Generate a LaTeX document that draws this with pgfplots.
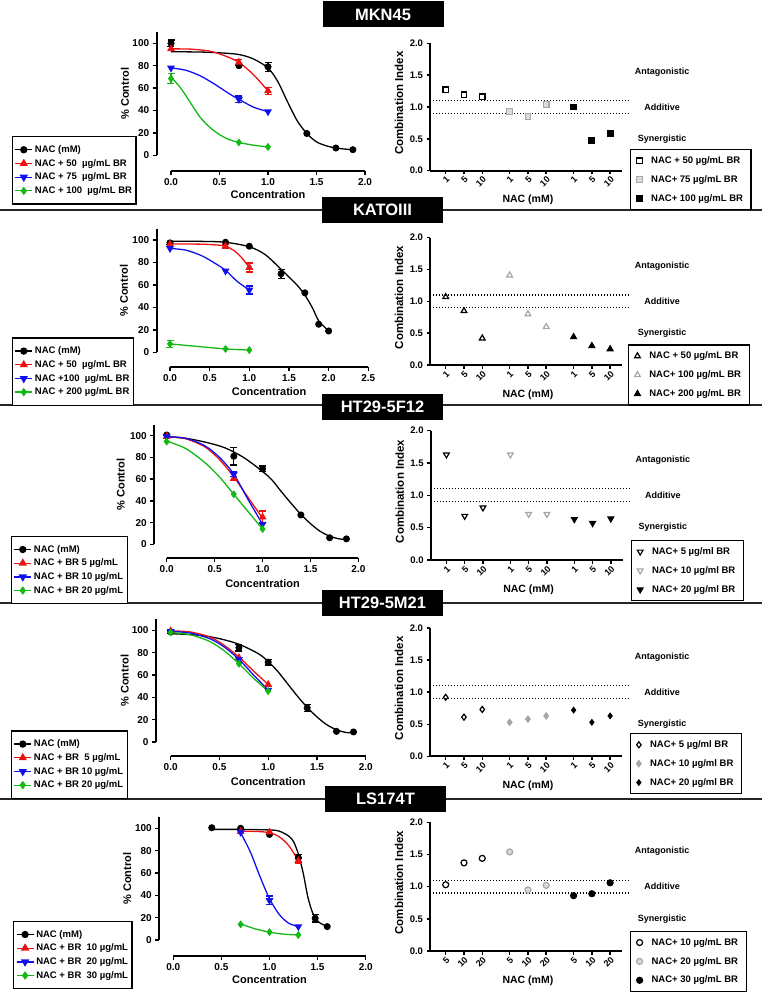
\documentclass[border=0pt]{standalone}
\usepackage{fontspec}
\setmainfont{Liberation Sans}
\usepackage{pgfplots}
\pgfplotsset{compat=1.18}

\definecolor{cred}{HTML}{EE1111}
\definecolor{cblue}{HTML}{1111EE}
\definecolor{cgreen}{HTML}{14B814}
\definecolor{cgrey}{HTML}{A6A6A6}

\newcommand\fs[1]{\fontsize{#1}{#1}\selectfont\bfseries}

\pgfplotsset{
  panel/.style={scale only axis, clip=false, anchor=south west,
    axis x line*=bottom, axis y line*=left, tick pos=left,
    axis line style={line width=1.7pt, -},
    tick align=outside, major tick length=4pt,
    major tick style={line width=1.4pt, black},
    tick label style={font=\fs{10}},
    /pgf/number format/assume math mode=true,
    legend cell align=left,
  },
  dose/.style={panel, xmin=0, ymin=0, ymax=110,
    ytick={0,20,...,100}, xtick distance=0.5,
    xticklabel style={/pgf/number format/.cd, fixed, fixed zerofill, precision=1},
    xlabel={Concentration}, ylabel={\% Control},
    xlabel style={font=\fs{11}, at={([yshift=-39.5pt]axis description cs:0.5,0)}, anchor=center},
    ylabel style={font=\fs{11}, at={([xshift=-46pt]axis description cs:0,0.5)}, anchor=center},
    legend style={draw=black, line width=1.2pt, font=\fs{9.5}, anchor=north west,
      inner xsep=2pt, inner ysep=7pt, row sep=1.3pt},
  },
  ci/.style={panel, width=192pt, xmin=0.14, xmax=10.65, ymin=0, ymax=2,
    ytick={0,0.5,...,2}, major tick length=3.5pt,
    yticklabel style={font=\fs{9.5}, /pgf/number format/.cd, fixed, fixed zerofill, precision=1},
    xtick={1,2,3,4.5,5.5,6.5,8,9,10},
    xticklabel style={rotate=45, anchor=north east, font=\fs{9}, inner sep=1pt},
    xlabel={NAC (mM)}, ylabel={Combination Index},
    xlabel style={font=\fs{10.5}, at={([yshift=-29.5pt]axis description cs:0.51,0)}, anchor=center},
    ylabel style={font=\fs{11.5}, at={([xshift=-31pt]axis description cs:0,0.53)}, anchor=center},
    legend style={draw=black, line width=1.2pt, font=\fs{9.5}, anchor=north west,
      inner xsep=6pt, inner ysep=5pt, row sep=6.5pt,
      /tikz/every odd column/.append style={column sep=7pt}},
  },
  nac/.style={black, mark=*, mark size=3pt},
  rd/.style={cred, mark=triangle*, mark size=3.6pt},
  bl/.style={cblue, mark=triangle*, mark size=3.6pt, mark options={rotate=180}},
  gr/.style={cgreen, mark=diamond*, mark size=3.2pt},
}

% fitted curve, measured points, error bars, legend line
\newcommand\curve[2]{\addplot[#1, mark=none, line width=1.3pt, smooth, forget plot] coordinates {#2};}
\newcommand\pts[2]{\addplot[#1, only marks, line width=1pt, forget plot] coordinates {#2};}
\newcommand\errs[2]{\addplot[#1, only marks, mark=none, forget plot,
  error bars/.cd, y dir=both, y explicit, error bar style={line width=1.3pt},
  error mark options={rotate=90, mark size=3.5pt, line width=1.3pt}] coordinates {#2};}
\newcommand\leg[2]{\addlegendimage{#1, line width=1.3pt}\addlegendentry{#2}}

% combination index points
\newcommand\ci[3]{\addplot[only marks, line width=1.2pt, #1] coordinates {#2}; \addlegendentry{#3}}
\newcommand\zones{%
  \addplot[black, line width=1.2pt, dash pattern=on 1.2pt off 1.8pt, forget plot] coordinates {(0.14,1.1) (11.1,1.1)};
  \addplot[black, line width=1.2pt, dash pattern=on 1.2pt off 1.8pt, forget plot] coordinates {(0.14,0.9) (11.1,0.9)};
  \node[font=\fs{9}] at (axis cs:12.85,1.55) {Antagonistic};
  \node[font=\fs{9}] at (axis cs:12.85,1.0) {Additive};
  \node[font=\fs{9}] at (axis cs:12.85,0.5) {Synergistic};}

\begin{document}
\begin{tikzpicture}
\useasboundingbox (0pt,0pt) rectangle (764pt,-992pt);
\foreach \y in {210,405,603,799} \draw[line width=1.3pt, black!85] (0pt,-\y pt) -- (762pt,-\y pt);
\foreach \y/\t/\x in {14.5/MKN45/383, 210/KATOIII/382.5, 406.5/HT29-5F12/382.5, 603/HT29-5M21/382.5, 799/LS174T/385.5}
  \node[fill=black, text=white, font=\fs{16.5}, minimum width=121pt, minimum height=26pt, inner sep=0pt] at (\x pt,-\y pt) {\t};

% ---------------- MKN45 ----------------
\begin{axis}[dose, at={(171pt,-155.3pt)}, width=194pt, height=123.2pt, xmax=2,
  axis x line shift=15.4pt, axis y line shift=14.3pt,
  legend style={at={([xshift=-159pt,yshift=19.3pt]axis description cs:0,0)}}]
\curve{black}{(0,92.5) (0.3,92.2) (0.5,91.5) (0.7,90) (0.85,86) (1.0,78) (1.1,66) (1.2,48) (1.3,31) (1.4,19.5) (1.5,12) (1.6,8.5) (1.7,6.5) (1.8,5.5) (1.875,5)}
\curve{cred}{(0,95) (0.2,94.8) (0.4,93) (0.55,89) (0.7,83) (0.85,72) (1.0,57.5)}
\curve{cblue}{(0,78) (0.15,76) (0.3,71) (0.45,63.5) (0.6,55) (0.7,50) (0.85,43) (1.0,39)}
\curve{cgreen}{(0,70) (0.1,60) (0.2,47) (0.3,34) (0.4,25) (0.5,18.5) (0.6,14) (0.7,11.5) (0.85,9) (1.0,7.5)}
\errs{black}{(0,100) +- (0,3) (1.0,79) +- (0,4)}
\errs{cred}{(0.7,83) +- (0,2.5) (1.0,57.5) +- (0,3)}
\errs{cblue}{(0.7,50) +- (0,3)}
\errs{cgreen}{(0,68.5) +- (0,4.5)}
\pts{nac}{(0,100) (0.7,80) (1.0,79) (1.4,19.5) (1.7,6.5) (1.875,5)}
\pts{rd}{(0,95) (0.7,83) (1.0,57.5)}
\pts{bl}{(0,78) (0.7,50) (1.0,39)}
\pts{gr}{(0,68.5) (0.7,11.5) (1.0,7.5)}
\leg{nac}{NAC (mM)}
\leg{rd}{NAC + 50\ \ µg/mL BR}
\leg{bl}{NAC + 75\ \ µg/mL BR}
\leg{gr}{NAC + 100\ \ µg/mL BR}
\end{axis}

\begin{axis}[ci, at={(430pt,-170.7pt)}, height=127.4pt, xticklabels={1,5,10,1,5,10,1,5,10},
  legend style={at={([xshift=200pt,yshift=21.7pt]axis description cs:0,0)}}]
\zones
\ci{black, mark=square, mark size=2.8pt}{(1,1.27) (2,1.19) (3,1.16)}{NAC + 50 µg/mL BR}
\ci{cgrey, mark=square*, mark size=2.8pt, mark options={fill=cgrey!40}}{(4.5,0.93) (5.5,0.85) (6.5,1.04)}{NAC+ 75 µg/mL BR}
\ci{black, mark=square*, mark size=2.8pt}{(8,1.00) (9,0.48) (10,0.59)}{NAC+ 100 µg/mL BR}
\end{axis}

% ---------------- KATOIII ----------------
\begin{axis}[dose, at={(170pt,-352.3pt)}, width=198.3pt, height=123.5pt, xmax=2.5,
  axis x line shift=15pt, axis y line shift=13.3pt,
  legend style={at={([xshift=-158pt,yshift=15pt]axis description cs:0,0)}}]
\curve{black}{(0,99) (0.4,98.8) (0.7,98) (1.0,94) (1.2,87) (1.4,74) (1.5,67) (1.6,60) (1.7,51) (1.8,39) (1.875,28) (2.0,19)}
\curve{cred}{(0,96.5) (0.4,96.3) (0.6,95.5) (0.7,94.5) (0.8,91) (0.9,84.5) (1.0,75.5)}
\curve{cblue}{(0,92.5) (0.2,91) (0.4,86) (0.55,80) (0.7,73) (0.85,63) (1.0,55.5)}
\curve{cgreen}{(0,7.5) (0.35,5.2) (0.7,3) (1.0,2)}
\errs{black}{(0,97.5) +- (0,1.5) (1.4,70) +- (0,4)}
\errs{cred}{(0.7,94.5) +- (0,1.5) (1.0,75.5) +- (0,4)}
\errs{cblue}{(1.0,55.5) +- (0,3.5)}
\errs{cgreen}{(0,7.5) +- (0,3)}
\pts{nac}{(0,97.5) (0.7,98) (1.0,94.5) (1.4,70) (1.7,53) (1.875,25) (2.0,19)}
\pts{rd}{(0,96.2) (0.7,94.5) (1.0,75.5)}
\pts{bl}{(0,92.5) (0.7,72.5) (1.0,55.5)}
\pts{gr}{(0,7.5) (0.7,3) (1.0,2)}
\leg{nac}{NAC (mM)}
\leg{rd}{NAC + 50\ \ µg/mL BR}
\leg{bl}{NAC +100\ \ µg/mL BR}
\leg{gr}{NAC + 200 µg/mL BR}
\end{axis}

\begin{axis}[ci, at={(430pt,-365pt)}, height=127.3pt, xticklabels={1,5,10,1,5,10,1,5,10},
  legend style={at={([xshift=198pt,yshift=20.7pt]axis description cs:0,0)}}]
\zones
\ci{black, mark=triangle, mark size=3.3pt}{(1,1.07) (2,0.85) (3,0.42)}{NAC + 50 µg/mL BR}
\ci{cgrey, mark=triangle, mark size=3.3pt}{(4.5,1.41) (5.5,0.80) (6.5,0.60)}{NAC+ 100 µg/mL BR}
\ci{black, mark=triangle*, mark size=3.3pt}{(8,0.44) (9,0.30) (10,0.25)}{NAC+ 200 µg/mL BR}
\end{axis}

% ---------------- HT29-5F12 ----------------
\begin{axis}[dose, at={(166.7pt,-544.3pt)}, width=191.7pt, height=119.6pt, xmax=2,
  axis x line shift=14pt, axis y line shift=12.4pt,
  legend style={at={([xshift=-155.7pt,yshift=8.6pt]axis description cs:0,0)}}]
\curve{black}{(0,99) (0.2,97.5) (0.4,94) (0.6,89) (0.8,80) (1.0,67) (1.1,59) (1.2,48) (1.3,37.5) (1.4,27.5) (1.5,19) (1.6,12) (1.7,7.5) (1.8,5) (1.875,4.5)}
\curve{cred}{(0,99) (0.2,97) (0.4,89.5) (0.55,78) (0.7,62) (0.85,43) (1.0,24)}
\curve{cblue}{(0,99) (0.2,97.5) (0.4,90.5) (0.55,80) (0.7,64.5) (0.85,41) (1.0,18.5)}
\curve{cgreen}{(0,95) (0.2,88) (0.4,75) (0.55,62) (0.7,46) (0.85,30) (1.0,14)}
\errs{black}{(0.7,81) +- (0,8) (1.0,69.5) +- (0,2.5)}
\errs{cred}{(0.7,60.5) +- (0,2) (1.0,25) +- (0,5.5)}
\errs{cblue}{(0.7,64.5) +- (0,2)}
\pts{nac}{(0,100.5) (0.7,81) (1.0,69.5) (1.4,27) (1.7,6) (1.875,5)}
\pts{rd}{(0,99) (0.7,60.5) (1.0,25)}
\pts{bl}{(0,99) (0.7,64.5) (1.0,18.5)}
\pts{gr}{(0,94.5) (0.7,46) (1.0,14)}
\leg{nac}{NAC (mM)}
\leg{rd}{NAC + BR 5 µg/mL}
\leg{bl}{NAC + BR 10 µg/mL}
\leg{gr}{NAC + BR 20 µg/mL}
\end{axis}

\begin{axis}[ci, at={(430.7pt,-560pt)}, height=129.3pt, xticklabels={1,5,10,1,5,10,1,5,10},
  legend style={at={([xshift=200pt,yshift=20pt]axis description cs:0,0)}}]
\zones
\ci{black, mark=triangle, mark size=3.3pt, mark options={rotate=180}}{(1,1.63) (2,0.68) (3,0.81)}{NAC+ 5 µg/ml BR}
\ci{cgrey, mark=triangle, mark size=3.3pt, mark options={rotate=180}}{(4.5,1.63) (5.5,0.71) (6.5,0.71)}{NAC+ 10 µg/ml BR}
\ci{black, mark=triangle*, mark size=3.3pt, mark options={rotate=180}}{(8,0.63) (9,0.57) (10,0.64)}{NAC+ 20 µg/ml BR}
\end{axis}

% ---------------- HT29-5M21 ----------------
\begin{axis}[dose, at={(170.7pt,-742pt)}, width=195pt, height=122.9pt, xmax=2,
  axis x line shift=14.3pt, axis y line shift=14.7pt,
  legend style={at={([xshift=-159.7pt,yshift=11.7pt]axis description cs:0,0)}}]
\curve{black}{(0,97) (0.3,95.5) (0.5,92.5) (0.7,87.5) (0.9,79) (1.0,72) (1.1,63) (1.2,52) (1.3,41) (1.4,31) (1.5,22.5) (1.6,15.5) (1.7,11) (1.8,8.5) (1.875,8.5)}
\curve{cred}{(0,99.5) (0.2,98.5) (0.4,94) (0.55,86.5) (0.7,76) (0.85,63.5) (1.0,51.5)}
\curve{cblue}{(0,99) (0.2,97.5) (0.4,92.5) (0.55,85) (0.7,74) (0.85,60) (1.0,46.5)}
\curve{cgreen}{(0,98) (0.2,96) (0.4,90) (0.55,81.5) (0.7,70) (0.85,57) (1.0,45.5)}
\errs{black}{(0,98.5) +- (0,1.5) (0.7,84.5) +- (0,3) (1.0,71.5) +- (0,2.5) (1.4,30.5) +- (0,3)}
\pts{nac}{(0,98.5) (0.7,84.5) (1.0,71.5) (1.4,30.5) (1.7,9.5) (1.875,9)}
\pts{rd}{(0,99.5) (0.7,75.5) (1.0,51.5)}
\pts{bl}{(0,99) (0.7,74) (1.0,46.5)}
\pts{gr}{(0,98) (0.7,70) (1.0,45.5)}
\leg{nac}{NAC (mM)}
\leg{rd}{NAC + BR\ \ 5 µg/mL}
\leg{bl}{NAC + BR 10 µg/mL}
\leg{gr}{NAC + BR 20 µg/mL}
\end{axis}

\begin{axis}[ci, at={(430pt,-756.3pt)}, height=128.3pt, xticklabels={1,5,10,1,5,10,1,5,10},
  legend style={at={([xshift=200pt,yshift=23.3pt]axis description cs:0,0)}}]
\zones
\ci{black, mark=diamond, mark size=3pt}{(1,0.92) (2,0.61) (3,0.73)}{NAC+ 5 µg/ml BR}
\ci{cgrey, mark=diamond*, mark size=3pt}{(4.5,0.53) (5.5,0.58) (6.5,0.63)}{NAC+ 10 µg/ml BR}
\ci{black, mark=diamond*, mark size=2.6pt}{(8,0.72) (9,0.53) (10,0.63)}{NAC+ 20 µg/ml BR}
\end{axis}

% ---------------- LS174T ----------------
\begin{axis}[dose, at={(173.3pt,-940pt)}, width=192.4pt, height=122.9pt, xmax=2,
  axis x line shift=15.7pt, axis y line shift=14pt,
  legend style={at={([xshift=-160pt,yshift=19.3pt]axis description cs:0,0)}}]
\curve{black}{(0.4,99) (0.7,99) (1.0,98.5) (1.1,97.5) (1.2,93) (1.25,88) (1.3,77) (1.35,60) (1.4,38) (1.45,24) (1.5,17) (1.55,14) (1.6,12.5)}
\curve{cred}{(0.7,97.5) (0.9,97) (1.0,96) (1.1,92.5) (1.2,84.5) (1.3,71)}
\curve{cblue}{(0.7,96) (0.8,79) (0.9,57) (1.0,37) (1.1,23) (1.2,15) (1.3,12)}
\curve{cgreen}{(0.7,14.5) (0.85,10) (1.0,7) (1.15,5.2) (1.3,4.5)}
\errs{black}{(1.3,73.5) +- (0,3) (1.475,19.5) +- (0,3.5)}
\errs{cred}{(1.3,71) +- (0,2.5)}
\errs{cblue}{(1.0,35.5) +- (0,4)}
\pts{nac}{(0.4,100.5) (0.7,100) (1.0,94.5) (1.3,73.5) (1.475,19.5) (1.6,12)}
\pts{rd}{(0.7,97) (1.0,96.5) (1.3,71)}
\pts{bl}{(0.7,96.5) (1.0,35.5) (1.3,12)}
\pts{gr}{(0.7,14) (1.0,7) (1.3,4.5)}
\leg{nac}{NAC (mM)}
\leg{rd}{NAC + BR\ \ 10 µg/mL}
\leg{bl}{NAC + BR\ \ 20 µg/mL}
\leg{gr}{NAC + BR\ \ 30 µg/mL}
\end{axis}

\begin{axis}[ci, at={(430pt,-951pt)}, height=128.7pt, xticklabels={5,10,20,5,10,20,5,10,20},
  legend style={at={([xshift=200pt,yshift=20.3pt]axis description cs:0,0)}}]
\zones
\ci{black, mark=o, mark size=3pt}{(1,1.03) (2,1.37) (3,1.44)}{NAC+ 10 µg/mL BR}
\ci{cgrey, mark=*, mark size=3pt, mark options={fill=cgrey!40}}{(4.5,1.54) (5.5,0.95) (6.5,1.02)}{NAC+ 20 µg/mL BR}
\ci{black, mark=*, mark size=3pt}{(8,0.86) (9,0.89) (10,1.06)}{NAC+ 30 µg/mL BR}
\end{axis}
\end{tikzpicture}
\end{document}
